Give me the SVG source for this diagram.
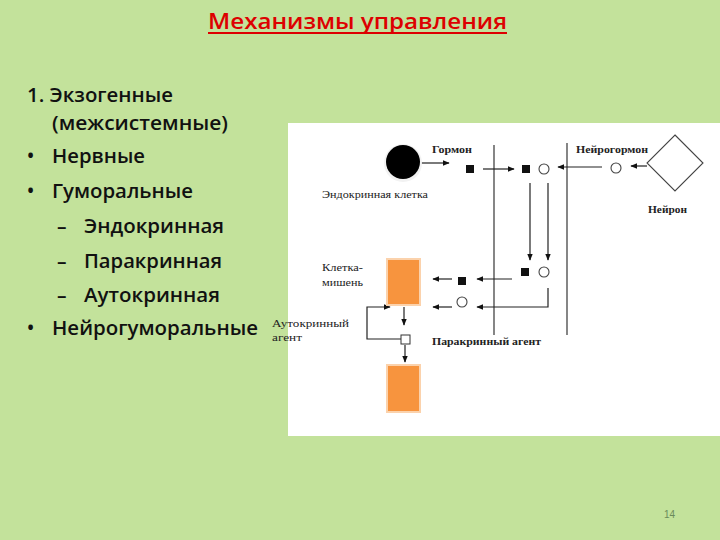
<svg xmlns="http://www.w3.org/2000/svg" width="720" height="540" viewBox="0 0 720 540">
<defs>
<style>
.title{font-family:"Open Sans","Liberation Sans",sans-serif;font-size:21px;font-weight:600;fill:#dd0000;}
.list{font-family:"Open Sans","Liberation Sans",sans-serif;font-size:19px;font-weight:600;fill:#111;}
.lbl{font-family:"Liberation Serif",serif;font-size:10.5px;font-weight:bold;fill:#222;}
.lbln{font-family:"Liberation Serif",serif;font-size:10.5px;fill:#222;}
.ln{stroke:#222;stroke-width:1.2;fill:none;}
.sep{stroke:#444;stroke-width:1.3;fill:none;}
.cell{fill:#f7943e;stroke:#fbd2ac;stroke-width:2;}
.sq{fill:#111;}
.osq{fill:#fff;stroke:#333;stroke-width:1;}
.oc{fill:#fff;stroke:#444;stroke-width:1.1;}
</style>
<marker id="ah" viewBox="0 0 10 10" refX="9" refY="5" markerWidth="7" markerHeight="7" markerUnits="userSpaceOnUse" orient="auto">
<path d="M0,1 L10,5 L0,9 Z" fill="#111"/>
</marker>
</defs>
<rect x="0" y="0" width="720" height="540" fill="#c3e29b"/>
<g id="title">
<text class="title" x="208" y="29" textLength="299" lengthAdjust="spacingAndGlyphs">Механизмы управления</text>
<line x1="208" y1="33" x2="507" y2="33" stroke="#dd0000" stroke-width="1.8"/>
</g>
<g id="list">
<text class="list" x="27" y="102" textLength="146" lengthAdjust="spacingAndGlyphs">1. Экзогенные</text>
<text class="list" x="52" y="130" textLength="176" lengthAdjust="spacingAndGlyphs">(межсистемные)</text>
<text class="list" x="27" y="163">•</text>
<text class="list" x="52" y="163" textLength="93" lengthAdjust="spacingAndGlyphs">Нервные</text>
<text class="list" x="27" y="198">•</text>
<text class="list" x="52" y="198" textLength="141" lengthAdjust="spacingAndGlyphs">Гуморальные</text>
<text class="list" x="57" y="233">–</text>
<text class="list" x="84" y="233" textLength="140" lengthAdjust="spacingAndGlyphs">Эндокринная</text>
<text class="list" x="57" y="268">–</text>
<text class="list" x="84" y="268" textLength="138" lengthAdjust="spacingAndGlyphs">Паракринная</text>
<text class="list" x="57" y="302">–</text>
<text class="list" x="84" y="302" textLength="136" lengthAdjust="spacingAndGlyphs">Аутокринная</text>
<text class="list" x="27" y="335">•</text>
<text class="list" x="52" y="335" textLength="206" lengthAdjust="spacingAndGlyphs">Нейрогуморальные</text>
</g>
<rect id="panel" x="288" y="123" width="432" height="313" fill="#ffffff"/>
<g id="connectors">
<line class="sep" x1="494" y1="145" x2="494" y2="335"/>
<line class="sep" x1="567" y1="143" x2="567" y2="335"/>
<line class="ln" x1="421" y1="163" x2="449" y2="163" marker-end="url(#ah)"/>
<line class="ln" x1="483" y1="169" x2="514" y2="169" marker-end="url(#ah)"/>
<line class="ln" x1="602" y1="167" x2="558" y2="167" marker-end="url(#ah)"/>
<line class="ln" x1="647" y1="166" x2="631" y2="166" marker-end="url(#ah)"/>
<line class="ln" x1="530" y1="183" x2="530" y2="260" marker-end="url(#ah)"/>
<line class="ln" x1="548" y1="183" x2="548" y2="260" marker-end="url(#ah)"/>
<line class="ln" x1="512" y1="279" x2="477" y2="279" marker-end="url(#ah)"/>
<polyline class="ln" points="548,288 548,307 477,307" marker-end="url(#ah)"/>
<line class="ln" x1="452" y1="279" x2="433" y2="279" marker-end="url(#ah)"/>
<line class="ln" x1="452" y1="307" x2="433" y2="307" marker-end="url(#ah)"/>
<line class="ln" x1="404" y1="307" x2="404" y2="325" marker-end="url(#ah)"/>
<polyline class="ln" points="401,339 367,339 367,307 390,307" marker-end="url(#ah)"/>
<line class="ln" x1="405" y1="345" x2="405" y2="362" marker-end="url(#ah)"/>
</g>
<g id="endocrine-cell">
<circle cx="403" cy="163" r="19" fill="#f2f2f2"/>
<circle cx="403" cy="162" r="17" fill="#000"/>
<text class="lbln" x="322" y="198" textLength="106" lengthAdjust="spacingAndGlyphs">Эндокринная клетка</text>
</g>
<g id="hormone">
<text class="lbl" x="432" y="153" textLength="40" lengthAdjust="spacingAndGlyphs">Гормон</text>
<rect class="sq" x="466" y="165" width="8" height="8"/>
</g>
<g id="pair-top">
<rect class="sq" x="522" y="165" width="8" height="8"/>
<circle class="oc" cx="544" cy="169" r="5"/>
</g>
<g id="neurohormone">
<text class="lbl" x="576" y="153" textLength="72" lengthAdjust="spacingAndGlyphs">Нейрогормон</text>
<circle class="oc" cx="616" cy="168" r="5"/>
</g>
<g id="neuron">
<polygon points="675,135 703,163 675,191 647,163" fill="#fff" stroke="#444" stroke-width="1.1"/>
<text class="lbl" x="648" y="213" textLength="39" lengthAdjust="spacingAndGlyphs">Нейрон</text>
</g>
<g id="pair-mid">
<rect class="sq" x="521" y="268" width="8" height="8"/>
<circle class="oc" cx="544" cy="272" r="5"/>
</g>
<g id="pair-target">
<rect class="sq" x="458" y="277" width="8" height="8"/>
<circle class="oc" cx="462" cy="302" r="5"/>
</g>
<g id="target-cell">
<rect class="cell" x="387" y="259" width="33" height="46"/>
<text class="lbln" x="322" y="271" textLength="41" lengthAdjust="spacingAndGlyphs">Клетка-</text>
<text class="lbln" x="322" y="286" textLength="41" lengthAdjust="spacingAndGlyphs">мишень</text>
</g>
<g id="autocrine-agent">
<rect class="osq" x="401" y="335" width="9" height="9"/>
<text class="lbln" x="272" y="327" textLength="77" lengthAdjust="spacingAndGlyphs">Аутокринный</text>
<text class="lbln" x="272" y="341" textLength="30" lengthAdjust="spacingAndGlyphs">агент</text>
</g>
<g id="paracrine-label">
<text class="lbl" x="432" y="345" textLength="109" lengthAdjust="spacingAndGlyphs">Паракринный агент</text>
</g>
<g id="cell-bottom">
<rect class="cell" x="387" y="365" width="33" height="47"/>
</g>
<text x="664" y="518" font-family="'Liberation Sans',sans-serif" font-size="10" fill="#6b8a5a">14</text>
</svg>
